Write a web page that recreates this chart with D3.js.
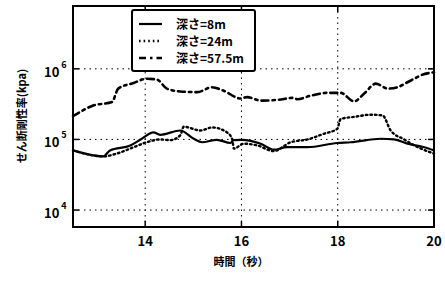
<!DOCTYPE html>
<html>
<head>
<meta charset="utf-8">
<script src="https://cdn.jsdelivr.net/npm/d3@7"></script>
<style>
  body { margin: 0; background: #fff; }
  svg { display: block; }
  text { font-family: "Noto Sans CJK JP", "DejaVu Sans", sans-serif; font-weight: bold; fill: #000; }
</style>
</head>
<body>
<script>
// time (s) and log10 of shear modulus (kpa)
var t8 = [12.5, 13.13, 13.27, 13.69, 13.93, 14.17, 14.31, 14.73, 15.01, 15.18, 15.49, 15.77, 15.84, 16.01, 16.4, 16.67, 16.95, 17.37, 17.99, 18.27, 18.9, 19.17, 19.45, 19.8, 20.0];
var g8 = [4.845, 4.76, 4.845, 4.915, 5.01, 5.1, 5.066, 5.127, 5.01, 4.96, 4.995, 4.95, 4.99, 4.995, 4.94, 4.855, 4.89, 4.89, 4.95, 4.96, 5.01, 5.0, 4.94, 4.89, 4.845];

var t24 = [12.5, 13.13, 13.41, 13.76, 14.03, 14.31, 14.52, 14.73, 14.8, 15.15, 15.39, 15.7, 15.81, 15.84, 16.05, 16.33, 16.67, 17.02, 17.37, 17.71, 17.99, 18.06, 18.34, 18.69, 18.93, 19.1, 19.38, 19.73, 20.0];
var g24 = [4.845, 4.76, 4.8, 4.89, 4.96, 5.0, 4.99, 5.06, 5.18, 5.127, 5.17, 5.1, 5.0, 4.87, 4.94, 4.915, 4.835, 4.96, 5.0, 5.08, 5.15, 5.29, 5.32, 5.35, 5.34, 5.127, 5.0, 4.87, 4.8];

var t575 = [12.5, 12.92, 13.31, 13.44, 13.76, 14.03, 14.24, 14.45, 14.73, 15.08, 15.39, 15.63, 15.98, 16.12, 16.4, 16.74, 17.09, 17.16, 17.44, 17.79, 18.06, 18.34, 18.55, 18.79, 19.04, 19.24, 19.45, 19.59, 19.73, 20.0];
var g575 = [5.33, 5.48, 5.53, 5.72, 5.8, 5.86, 5.85, 5.72, 5.68, 5.67, 5.74, 5.69, 5.58, 5.6, 5.55, 5.56, 5.59, 5.57, 5.62, 5.66, 5.66, 5.54, 5.65, 5.79, 5.72, 5.74, 5.81, 5.86, 5.91, 5.95];

var seriesNames = ['深さ=8m', '深さ=24m', '深さ=57.5m'];
var xTicks = [14, 16, 18, 20];
var yTicks = [1e4, 1e5, 1e6];

function toPoints(ts, gs) {
  return ts.map(function(t, i) { return { t: t, v: Math.pow(10, gs[i]) }; });
}

var series = [
  { name: seriesNames[0], pts: toPoints(t8, g8), dash: null, w: 2.2 },
  { name: seriesNames[1], pts: toPoints(t24, g24), dash: '1.6,3', w: 2.4 },
  { name: seriesNames[2], pts: toPoints(t575, g575), dash: '7,4,2.5,4', w: 2.6 }
];

var width = 445, height = 284;
var mLeft = 73, mRight = 434, mTop = 6, mBottom = 227;

var svg = d3.select('body').append('svg')
  .attr('width', width)
  .attr('height', height);

var x = d3.scaleLinear().domain([12.5, 20]).range([mLeft, mRight]);
var y = d3.scaleLog().domain([Math.pow(10, 3.76), Math.pow(10, 6.89)]).range([mBottom, mTop]);

// grid
var grid = svg.append('g').attr('stroke', '#000').attr('stroke-width', 1).attr('stroke-dasharray', '1.5,4');
grid.selectAll('.gx').data(xTicks.slice(0, 3)).enter().append('line')
  .attr('x1', x).attr('x2', x).attr('y1', mTop).attr('y2', mBottom);
grid.selectAll('.gy').data(yTicks).enter().append('line')
  .attr('y1', y).attr('y2', y).attr('x1', mLeft).attr('x2', mRight);

// ticks pointing inward
var tk = svg.append('g').attr('stroke', '#000').attr('stroke-width', 1.5);
xTicks.forEach(function(d) {
  tk.append('line').attr('x1', x(d)).attr('x2', x(d)).attr('y1', mBottom).attr('y2', mBottom - 6);
  tk.append('line').attr('x1', x(d)).attr('x2', x(d)).attr('y1', mTop).attr('y2', mTop + 6);
});
yTicks.forEach(function(d) {
  tk.append('line').attr('y1', y(d)).attr('y2', y(d)).attr('x1', mLeft).attr('x2', mLeft + 6);
  tk.append('line').attr('y1', y(d)).attr('y2', y(d)).attr('x1', mRight).attr('x2', mRight - 6);
});

// lines
var line = d3.line()
  .x(function(d) { return x(d.t); })
  .y(function(d) { return y(d.v); })
  .curve(d3.curveMonotoneX);

svg.append('g').selectAll('path').data(series).enter().append('path')
  .attr('d', function(d) { return line(d.pts); })
  .attr('fill', 'none')
  .attr('stroke', '#000')
  .attr('stroke-width', function(d) { return d.w; })
  .attr('stroke-linecap', 'round')
  .attr('stroke-dasharray', function(d) { return d.dash; });

// frame
svg.append('rect')
  .attr('x', mLeft).attr('y', mTop)
  .attr('width', mRight - mLeft).attr('height', mBottom - mTop)
  .attr('fill', 'none').attr('stroke', '#000').attr('stroke-width', 2);

// tick labels
svg.append('g').selectAll('text').data(xTicks).enter().append('text')
  .attr('x', x).attr('y', 246)
  .attr('text-anchor', 'middle')
  .attr('font-size', 13)
  .text(function(d) { return d; });

var yl = svg.append('g').selectAll('text').data(yTicks).enter().append('text')
  .attr('x', 44).attr('y', function(d) { return y(d) + 8; })
  .attr('font-size', 13);
yl.append('tspan').text('10');
yl.append('tspan').attr('dy', -9).attr('dx', 2).attr('font-size', 9)
  .text(function(d) { return Math.round(Math.log10(d)); });

// axis titles
svg.append('text')
  .attr('transform', 'translate(26,116) rotate(-90)')
  .attr('text-anchor', 'middle')
  .attr('font-size', 11)
  .text('せん断剛性率(kpa)');

svg.append('text')
  .attr('x', 241).attr('y', 266)
  .attr('text-anchor', 'middle')
  .attr('font-size', 11)
  .text('時間（秒）');

// legend
var lg = svg.append('g');
lg.append('rect')
  .attr('x', 132).attr('y', 10).attr('width', 123).attr('height', 61).attr('rx', 2)
  .attr('fill', '#fff').attr('stroke', '#000').attr('stroke-width', 2);
var rows = lg.selectAll('.row').data(series).enter().append('g')
  .attr('transform', function(d, i) { return 'translate(0,' + (24 + i * 17) + ')'; });
rows.append('line')
  .attr('x1', 139).attr('x2', 162).attr('y1', 0).attr('y2', 0)
  .attr('stroke', '#000')
  .attr('stroke-width', function(d) { return d.w; })
  .attr('stroke-dasharray', function(d) { return d.dash; });
rows.append('text')
  .attr('x', 176).attr('y', 5)
  .attr('font-size', 12)
  .text(function(d) { return d.name; });
</script>
</body>
</html>
